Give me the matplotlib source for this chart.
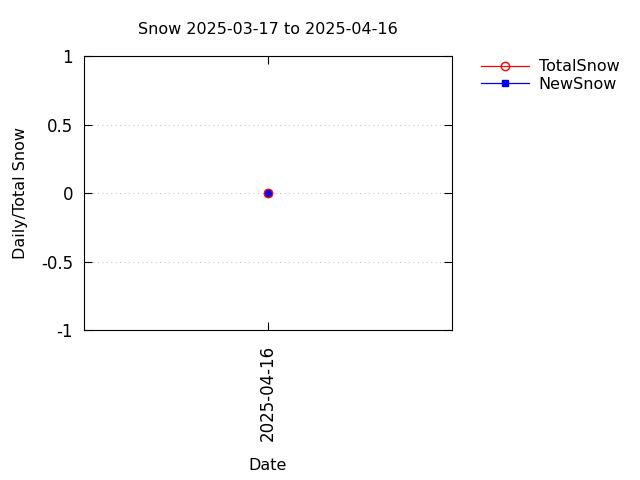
import matplotlib
matplotlib.use('Agg')
import matplotlib.pyplot as plt
import matplotlib.dates as mdates
import numpy as np
import pandas as pd

dates = pd.to_datetime(['2025-04-16'])
total_snow = [0]
new_snow = [0]
yticks = [-1, -0.5, 0, 0.5, 1]
ytick_labels = ['-1', '-0.5', '0', '0.5', '1']

fig = plt.figure(figsize=(6.4, 4.8), dpi=100)
ax = fig.add_axes([0.13125, 0.3125, 0.575, 0.5708])

ax.plot(dates, new_snow, color='blue', lw=0.9, marker='s', ms=5,
        mfc='blue', mec='blue', label='NewSnow', zorder=2)
ax.plot(dates, total_snow, color='red', lw=0.9, marker='o', ms=6,
        mfc='none', mec='red', label='TotalSnow', zorder=3)

x0 = mdates.date2num(dates[0])
ax.set_xlim(x0 - 1, x0 + 1)
ax.set_xticks([x0])
ax.set_xticklabels(['2025-04-16'], rotation=90)
ax.set_ylim(-1, 1)
ax.set_yticks(yticks)
ax.set_yticklabels(ytick_labels)

ax.grid(axis='y', color='#c8c8c8', linestyle=(0, (1, 3)), lw=0.8)
ax.tick_params(direction='in', top=True, right=True, length=6, width=0.8,
               labelsize=12, pad=8)
ax.tick_params(axis='x', pad=11)
for s in ax.spines.values():
    s.set_linewidth(0.8)

ax.set_title('Snow 2025-03-17 to 2025-04-16', fontsize=11.5, pad=16)
ax.set_xlabel('Date', fontsize=11.5, labelpad=12)
ax.set_ylabel('Daily/Total Snow', fontsize=11.5, labelpad=9)

handles, labels = ax.get_legend_handles_labels()
ax.legend(handles[::-1], labels[::-1], loc='upper left',
          bbox_to_anchor=(1.04, 1.04), frameon=False,
          fontsize=11.5, handlelength=3.0, handletextpad=0.6, labelspacing=0.15)

fig.savefig('out.png', dpi=100)
